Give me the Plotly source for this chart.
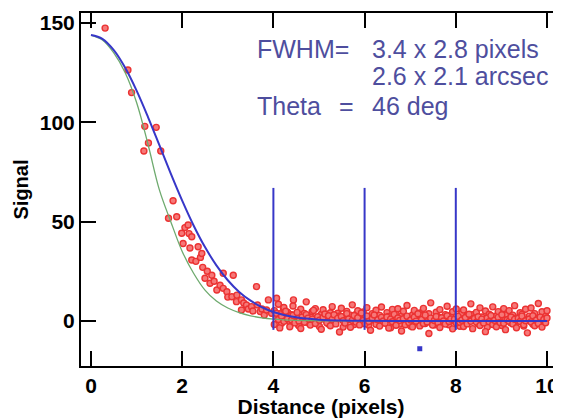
import plotly.graph_objects as go

# ---------------- data ----------------
# radial profile points (core)
core_x = [0.31, 0.81, 0.89, 1.16, 1.18, 1.26, 1.43, 1.53, 1.70, 1.80, 1.88, 1.99, 2.02, 2.06,
          2.13, 2.15, 2.17, 2.21, 2.21, 2.30, 2.35, 2.40, 2.43, 2.45, 2.50, 2.55, 2.61, 2.65,
          2.70, 2.76, 2.83, 2.90, 2.90, 2.98, 3.00, 3.09, 3.12, 3.19, 3.20, 3.30, 3.30, 3.35,
          3.41, 3.45, 3.52, 3.55, 3.63, 3.65, 3.71, 3.75, 3.80, 3.85, 3.89, 3.96, 4.07, 4.22,
          4.29, 4.44, 4.55]
core_y = [147.5, 126.4, 115.0, 85.6, 98.0, 89.6, 97.5, 85.6, 51.7, 60.5, 52.5, 44.2, 39.0, 47.0,
          48.3, 44.0, 36.7, 42.4, 30.7, 30.0, 37.4, 32.0, 34.0, 27.0, 21.5, 25.0, 19.0, 23.0,
          20.0, 15.6, 18.0, 24.0, 16.4, 14.7, 12.0, 12.2, 23.0, 9.7, 13.0, 10.6, 5.5, 9.0,
          8.0, 6.0, 7.2, 5.0, 17.3, 8.0, 4.7, 6.0, 3.0, 5.5, 10.6, 3.9, 11.4, 6.4,
          3.9, 10.6, -2.0]

# radial profile points (background tail)
tail_x = [4.02, 4.06, 4.11, 4.14, 4.18, 4.23, 4.27, 4.31, 4.36, 4.40, 4.43, 4.47, 4.52, 4.56, 4.60,
          4.63, 4.68, 4.72, 4.76, 4.81, 4.85, 4.88, 4.92, 4.97, 5.01, 5.05, 5.09, 5.13, 5.17, 5.21,
          5.25, 5.29, 5.33, 5.37, 5.41, 5.45, 5.49, 5.53, 5.57, 5.61, 5.65, 5.69, 5.73, 5.77, 5.81,
          5.85, 5.89, 5.93, 5.97, 6.01, 6.05, 6.09, 6.13, 6.17, 6.21, 6.25, 6.29, 6.33, 6.37, 6.41,
          6.45, 6.49, 6.53, 6.57, 6.61, 6.65, 6.69, 6.73, 6.77, 6.81, 6.85, 6.89, 6.93, 6.97, 7.01,
          7.05, 7.09, 7.13, 7.17, 7.21, 7.25, 7.29, 7.33, 7.37, 7.41, 7.45, 7.49, 7.53, 7.57, 7.61,
          7.65, 7.69, 7.73, 7.77, 7.81, 7.85, 7.89, 7.93, 7.97, 8.01, 8.05, 8.09, 8.13, 8.17, 8.21,
          8.25, 8.29, 8.33, 8.37, 8.41, 8.45, 8.49, 8.53, 8.57, 8.61, 8.65, 8.69, 8.73, 8.77, 8.81,
          8.85, 8.89, 8.93, 8.97, 9.01, 9.05, 9.09, 9.13, 9.17, 9.21, 9.25, 9.29, 9.33, 9.37, 9.41,
          9.45, 9.49, 9.53, 9.57, 9.61, 9.65, 9.69, 9.73, 9.77, 9.81, 9.85, 9.89, 9.93, 9.97, 10.0]
tail_y_a = [5.2, 2.1, 8.4, 3.6, -1.2, 6.8, 1.9, 4.4, -0.6, 3.1,
            7.5, 0.8, 2.6, -2.4, 5.9, 1.3, 3.8, 9.6, -0.9, 2.2,
            4.7, 0.3, 6.2, 1.8, -2.8, 3.4, 5.6, 0.9, 2.7, -1.5,
            4.1, 7.2, 1.4, -0.3, 3.9, 2.5, 6.4, -3.1, 1.1, 4.8,
            0.6, 2.9, 8.1, -1.8, 3.3, 5.1, 1.6, -0.7, 4.5, 2.0,
            6.7, -2.2, 1.2, 3.7, 0.4, 5.4, -1.1, 2.8, 7.0, 1.5,
            -0.4, 4.2, 2.3, -3.4, 5.8, 1.0, 3.5, 6.1, -1.6, 2.4,
            4.9, 0.2, 7.8, 1.7, -2.5, 3.0, 5.3, 0.7, -0.8, 4.0,
            2.6, 6.3, -1.3, 1.9, 3.6, 9.1, 0.5, -2.0, 4.4, 2.1,
            5.7, -0.5, 1.3, 3.2, 7.4, -1.9, 2.7, 4.6, 0.1, 6.0,
            1.8, -2.7, 3.9, 5.5, 0.9, 2.2, -0.2, 8.6, 3.1, 1.4,
            4.3, -1.4, 6.6, 2.0, 0.3, 5.0, -3.0, 3.4, 1.6, 7.1,
            -0.9, 2.5, 4.7, 1.1, -2.3, 6.2, 3.0, 0.6, 5.2, -1.0,
            2.9, 7.7, 1.5, -0.1, 4.1, 3.3, -2.6, 5.9, 0.8, 2.4,
            6.5, -1.7, 3.7, 1.2, 8.8, 0.4, 4.6, -0.6, 2.3, 5.1]
tail_y_b = [-1.8, 3.9, 0.7, -3.5, 2.4, -0.2, 4.9, 1.1, -2.9, 0.5,
            2.8, -1.0, 4.3, 0.0, -3.8, 1.9, -0.7, 3.2, 1.4, -2.1,
            0.9, 5.3, -1.3, 2.1, 0.4, -4.2, 1.7, 3.5, -0.9, 2.6,
            -2.4, 0.8, 3.1, -1.5, 1.3, -5.6, 2.2, 0.1, -1.1, 3.7,
            1.0, -3.2, 0.3, 2.7, -0.6, 1.6, -2.0, 4.0, 0.2, -1.4,
            2.5, -0.3, -4.7, 1.2, 3.0, -1.7, 0.6, -2.6, 1.8, 0.0,
            -1.2, 2.0, -3.6, 0.9, -0.4, 3.3, -2.2, 1.5, 0.3, -5.1,
            1.1, -1.9, 2.4, -0.8, 0.5, -3.0, 1.9, -0.1, 3.6, -2.5,
            0.7, -1.3, 2.9, -0.5, -6.3, 1.4, -2.1, 0.2, 2.2, -0.9,
            -3.3, 1.6, 0.0, -1.6, 2.6, -0.3, 1.0, -4.0, 0.8, -1.1,
            2.3, -0.7, 0.4, -2.8, 1.7, -1.5, 3.4, -0.2, -3.9, 1.2,
            -0.6, 2.1, -2.3, 0.9, -1.0, -5.4, 1.5, -0.4, 2.7, -1.8,
            0.3, -2.9, 1.8, -0.8, 3.1, -1.2, -4.4, 0.6, -0.1, 2.0,
            -1.5, 0.8, -3.4, 1.3, -0.3, 2.4, -1.9, 0.1, -6.0, 1.0,
            -0.5, 2.6, -2.4, 0.5, -1.3, 1.9, -3.1, 0.7, -0.9, 1.5]

# fitted profiles
fit_x = [0.0, 0.25, 0.5, 0.75, 1.0, 1.25, 1.5, 1.75, 2.0, 2.25, 2.5, 2.75, 3.0, 3.25,
         3.5, 3.75, 4.0, 4.5, 5.0, 5.5, 6.0, 7.0, 8.0, 9.0, 10.0]
fit_major_y = [144.0, 142.1, 136.4, 127.5, 116.0, 102.7, 88.5, 74.2, 60.6, 48.1, 37.2, 28.0,
               20.5, 14.6, 10.2, 6.9, 4.5, 1.8, 0.6, 0.2, 0.05, 0.0, 0.0, 0.0, 0.0]
fit_minor_y = [144.0, 141.5, 135.0, 125.0, 110.0, 89.0, 66.0, 50.0, 35.0, 24.0, 15.5, 10.0,
               6.5, 4.2, 2.6, 1.5, 0.9, 0.3, 0.1, 0.0, 0.0, 0.0, 0.0, 0.0, 0.0]

# aperture / annulus markers
vline_x = [4, 6, 8]
vline_bottom = -4.5
vline_top = 67
sky_x = [7.21]
sky_y = [-14]

x_ticks = [0, 2, 4, 6, 8, 10]
y_ticks = [0, 50, 100, 150]

# ---------------- figure ----------------
RED_FILL = "rgb(246,120,120)"
RED_LINE = "rgb(235,50,50)"
BLUE = "rgb(55,55,200)"
GREEN = "rgb(110,170,110)"
TEXT_BLUE = "rgb(78,78,158)"
FONT = "Arial, Liberation Sans, sans-serif"

fig = go.Figure()

marker = dict(symbol="circle", size=6, color=RED_FILL, line=dict(color=RED_LINE, width=1.4))
fig.add_trace(go.Scatter(x=core_x, y=core_y, mode="markers", marker=marker))
fig.add_trace(go.Scatter(x=tail_x, y=tail_y_a, mode="markers", marker=marker))
fig.add_trace(go.Scatter(x=tail_x, y=tail_y_b, mode="markers", marker=marker))

fig.add_trace(go.Scatter(x=fit_x, y=fit_minor_y, mode="lines", line=dict(color=GREEN, width=1.3, shape="spline")))
fig.add_trace(go.Scatter(x=fit_x, y=fit_major_y, mode="lines", line=dict(color=BLUE, width=2, shape="spline")))

vx, vy = [], []
for v in vline_x:
    vx += [v, v, None]
    vy += [vline_bottom, vline_top, None]
fig.add_trace(go.Scatter(x=vx, y=vy, mode="lines", line=dict(color=BLUE, width=2)))
fig.add_trace(go.Scatter(x=sky_x, y=sky_y, mode="markers",
                         marker=dict(symbol="square", size=5, color=BLUE)))

XR = [-0.219, 10.307]
YR = [-22.7, 155.1]
tickfont = dict(family=FONT, size=21, color="black", weight="bold")

# the page body adds an 8px offset, so the figure is 8px smaller than the window
fig.update_layout(
    width=553, height=410,
    margin=dict(l=73, r=0, t=5, b=52),
    paper_bgcolor="white", plot_bgcolor="white",
    showlegend=False,
    xaxis=dict(range=XR, tickvals=x_ticks, ticktext=[str(t) for t in x_ticks],
               ticks="inside", ticklen=15, tickwidth=2, tickcolor="black",
               showline=True, linecolor="black", linewidth=2, mirror="ticks",
               showgrid=False, zeroline=False, tickfont=tickfont, automargin=False,
               title=dict(text="Distance (pixels)", standoff=2,
                          font=dict(family=FONT, size=21, color="black", weight="bold"))),
    yaxis=dict(range=YR, tickvals=y_ticks, ticktext=[str(t) for t in y_ticks],
               ticks="inside", ticklen=15, tickwidth=2, tickcolor="black",
               showline=True, linecolor="black", linewidth=2,
               showgrid=False, zeroline=False, tickfont=tickfont, automargin=False,
               title=dict(text="Signal", standoff=6,
                          font=dict(family=FONT, size=20, color="black", weight="bold"))),
    yaxis2=dict(range=YR, tickvals=y_ticks, overlaying="y", side="right", anchor="x",
                ticks="inside", ticklen=6, tickwidth=2, tickcolor="black", automargin=False,
                showline=False, showgrid=False, zeroline=False, showticklabels=False),
)

afont = dict(family=FONT, size=25, color=TEXT_BLUE)
labels = [
    (3.6, 137, "FWHM="),
    (6.12, 137, "3.4 x 2.8 pixels"),
    (6.12, 123.2, "2.6 x 2.1 arcsec"),
    (3.6, 108.5, "Theta"),
    (5.4, 108.5, "="),
    (6.12, 108.5, "46 deg"),
]
for lx, ly, t in labels:
    fig.add_annotation(x=lx, y=ly, xref="x", yref="y", text=t, showarrow=False,
                       xanchor="left", yanchor="middle", font=afont)

fig.write_html("out.html")
